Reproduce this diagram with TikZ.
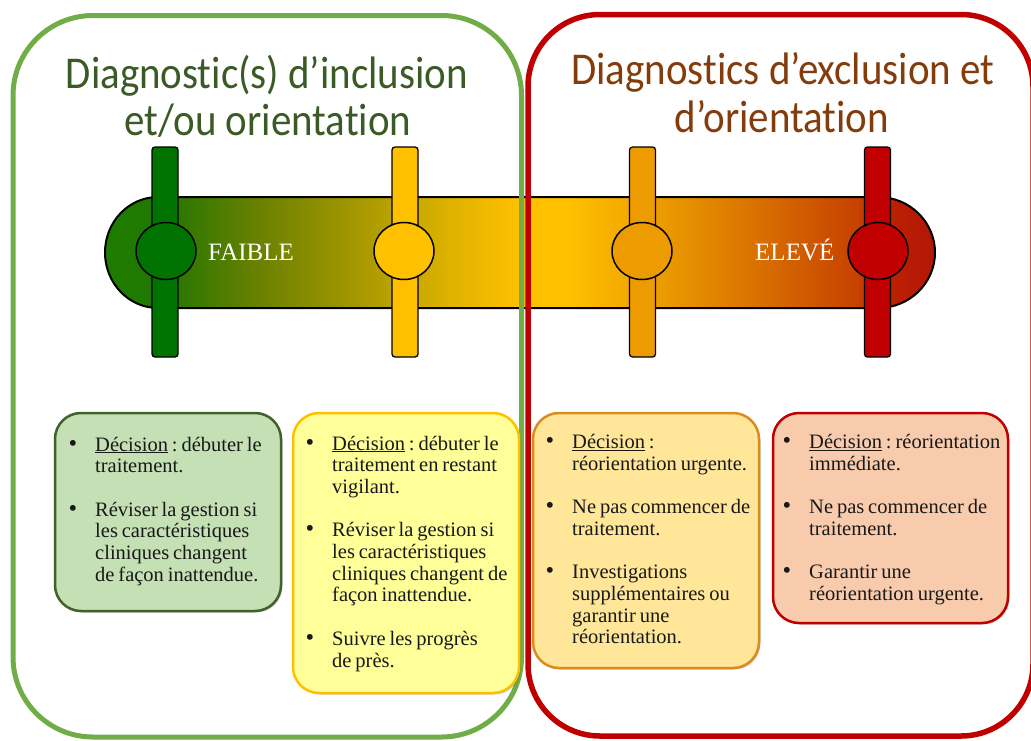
\documentclass[tikz,border=0pt]{standalone}
\usepackage{fontspec}
\setmainfont{Liberation Serif}
\newfontfamily\titlefont[FakeStretch=0.9, Ligatures=NoCommon]{Carlito}
\newfontfamily\boxfont{Liberation Serif}
\usetikzlibrary{shapes.geometric,shadows}

\definecolor{gline}{RGB}{112,173,71}
\definecolor{rline}{RGB}{192,0,0}
\definecolor{tgreen}{RGB}{58,90,38}
\definecolor{tbrown}{RGB}{132,60,12}
\definecolor{sgreen}{RGB}{0,115,0}
\definecolor{syellow}{RGB}{255,192,0}
\definecolor{sorange}{RGB}{237,156,0}
\definecolor{sred}{RGB}{192,0,0}
\definecolor{b1fill}{RGB}{197,224,180}
\definecolor{b1line}{RGB}{66,98,44}
\definecolor{b2fill}{RGB}{255,255,153}
\definecolor{b2line}{RGB}{255,192,0}
\definecolor{b3fill}{RGB}{255,230,153}
\definecolor{b3line}{RGB}{218,140,30}
\definecolor{b4fill}{RGB}{248,203,173}
\definecolor{b4line}{RGB}{192,0,0}
\definecolor{btext}{RGB}{25,25,25}

\definecolor{s1}{RGB}{28,125,0}
\definecolor{s2}{RGB}{35,118,0}
\definecolor{s3}{RGB}{100,127,0}
\definecolor{s4}{RGB}{160,150,0}
\definecolor{s5}{RGB}{222,178,0}
\definecolor{s6}{RGB}{255,192,0}
\definecolor{s7}{RGB}{255,192,0}
\definecolor{s8}{RGB}{240,165,0}
\definecolor{s9}{RGB}{216,112,0}
\definecolor{s10}{RGB}{198,65,0}
\definecolor{s11}{RGB}{192,35,0}
\definecolor{s12}{RGB}{178,22,8}

\pgfdeclarehorizontalshading{barshade}{100bp}{%
 color(0bp)=(s1); color(25bp)=(s1); color(28.61bp)=(s2); color(33.71bp)=(s3);
 color(39.72bp)=(s4); color(45.73bp)=(s5); color(49.94bp)=(s6); color(52.94bp)=(s7);
 color(57.15bp)=(s8); color(64.36bp)=(s9); color(70.37bp)=(s10); color(71.57bp)=(s11);
 color(75bp)=(s12); color(100bp)=(s12)}

\newcommand\bul{\leavevmode\llap{\scalebox{1.2}{\textbullet}\hspace{18pt}}}
\newcommand\boxsp{\frenchspacing\spaceskip=3.9pt plus 1pt minus 0.5pt\relax}

\tikzset{
 ttl/.style={inner sep=0pt, anchor=base, font=\titlefont\fontsize{45.5}{48}\selectfont},
 lvl/.style={inner sep=0pt, anchor=base west, text=white, font=\fontsize{25}{28}\selectfont},
 slider/.style={draw=black, line width=1.3pt, rounded corners=3pt, minimum width=26pt, minimum height=210pt, inner sep=0pt},
 knob/.style={ellipse, draw=black, line width=1.5pt, minimum width=60pt, minimum height=57pt, inner sep=0pt},
 sbox/.style={line width=2.5pt, rounded corners=26pt,
   drop shadow={shadow xshift=1.5pt, shadow yshift=-1.5pt, opacity=0.2, fill=black}},
 btxt/.style={anchor=base west, inner sep=0pt, text width=220pt, align=left, text=btext,
   font=\boxfont\fontsize{20.5}{21.7}\selectfont},
}

\begin{document}
\begin{tikzpicture}[x=1pt, y=-1pt]
\useasboundingbox (0,0) rectangle (1031,740);
\begin{scope}
\clip (0,0) rectangle (1031,740);

% gradient bar
\path[shade, shading=barshade, draw=black, line width=2pt]
  (158,197) -- (878,197) arc[start angle=-90, end angle=90, x radius=57, y radius=55.5]
  -- (158,308) arc[start angle=90, end angle=270, x radius=53, y radius=55.5] -- cycle;

% sliders
\node[slider, fill=sgreen]  (sl1) at (165,252) {};
\node[slider, fill=syellow] (sl2) at (405,252) {};
\node[slider, fill=sorange] (sl3) at (642.5,252) {};
\node[slider, fill=sred]    (sl4) at (877.5,252) {};
\node[knob, fill=sgreen]  (k1) at (166,251) {};
\node[knob, fill=syellow] (k2) at (404,251) {};
\node[knob, fill=sorange] (k3) at (642,251) {};
\node[knob, fill=sred]    (k4) at (878,251) {};

\node[lvl] (faible) at (208,260) {FAIBLE};
\node[lvl] (eleve) at (755,260) {ELEVÉ};

% big frames
\draw[gline, line width=5pt, rounded corners=80pt] (13,15.5) rectangle (521.5,737);
\draw[rline, line width=5.5pt, rounded corners=72pt] (528,14.5) rectangle (1033,736);

% titles
\node[ttl, text=tgreen] (t1) at (267,88) {Diagnostic(s) d’inclusion};
\node[ttl, text=tgreen] (t2) at (268,135) {et/ou orientation};
\node[ttl, text=tbrown] (t3) at (783,84) {Diagnostics d’exclusion et};
\node[ttl, text=tbrown] (t4) at (782,132) {d’orientation};

% small boxes
\draw[sbox, draw=b1line, fill=b1fill] (55,413) rectangle (281,611);
\draw[sbox, draw=b2line, fill=b2fill] (293,413) rectangle (519,693);
\draw[sbox, draw=b3line, fill=b3fill] (533,413) rectangle (759,668);
\draw[sbox, draw=b4line, fill=b4fill] (773,413) rectangle (1008,623);

\node[btxt] (x1) at (95,451) {\boxsp\bul\underline{Décision} : débuter le\\ traitement.\\[21.7pt]
 \bul Réviser la gestion si\\ les caractéristiques\\ cliniques changent\\ de façon inattendue.};
\node[btxt] (x2) at (332,450) {\boxsp\bul\underline{Décision} : débuter le\\ traitement en restant\\ vigilant.\\[21.7pt]
 \bul Réviser la gestion si\\ les caractéristiques\\ cliniques changent de\\ façon inattendue.\\[21.7pt]
 \bul Suivre les progrès\\ de près.};
\node[btxt] (x3) at (572,448.5) {\boxsp\bul\underline{Décision} :\\ réorientation urgente.\\[21.7pt]
 \bul Ne pas commencer de\\ traitement.\\[21.7pt]
 \bul Investigations\\ supplémentaires ou\\ garantir une\\ réorientation.};
\node[btxt] (x4) at (809,448.5) {\boxsp\bul\underline{Décision} : réorientation\\ immédiate.\\[21.7pt]
 \bul Ne pas commencer de\\ traitement.\\[21.7pt]
 \bul Garantir une\\ réorientation urgente.};
\end{scope}
\end{tikzpicture}
\end{document}
